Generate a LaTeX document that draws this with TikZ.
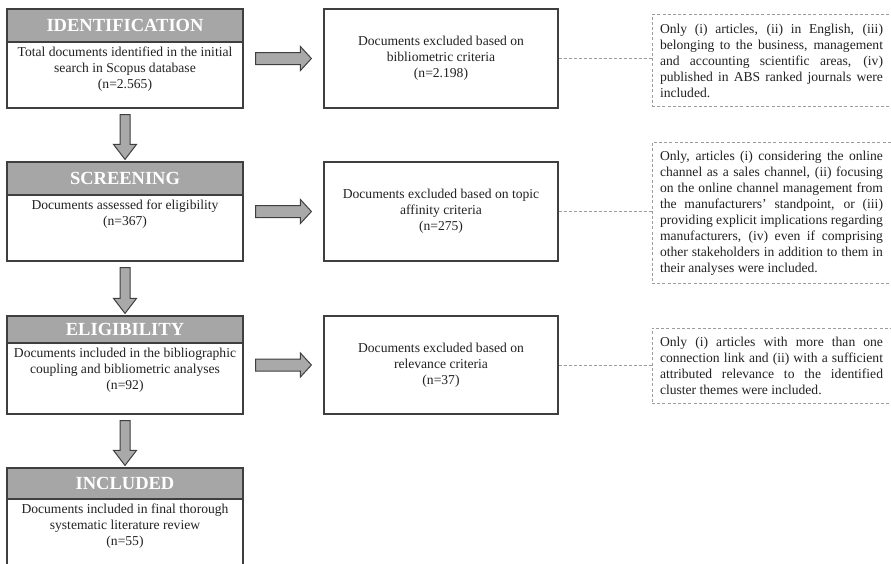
\documentclass[tikz,border=0pt]{standalone}
\usepackage{fontspec}
\setmainfont{Liberation Serif}
\usetikzlibrary{calc,positioning}
\definecolor{ink}{HTML}{222222}
\definecolor{frame}{HTML}{3F3F3F}
\definecolor{headfill}{HTML}{A6A6A6}
\definecolor{arrowfill}{HTML}{A9A9A9}
\definecolor{dashline}{HTML}{9C9C9C}
\newcommand{\bodysize}{\fontsize{13.6}{16}\selectfont}
\newcommand{\critsize}{\fontsize{13.6}{16}\selectfont}
\newcommand{\headsize}{\fontsize{18.5}{20}\selectfont\bfseries}
% block arrow from one stage down to the next
\newcommand{\flowdown}[2]{%
 \draw[flow] let \p1=($(#1.south)+(0,6)$), \p2=($(#2.north)+(0,-2)$) in
  (\x1-5pt,\y1) -- (\x1+5pt,\y1) -- (\x1+5pt,\y2+15pt) -- (\x1+11.5pt,\y2+15pt)
  -- (\x1,\y2) -- (\x1-11.5pt,\y2+15pt) -- (\x1-5pt,\y2+15pt) -- cycle;}
% block arrow from a stage to its exclusion box
\newcommand{\flowright}[2]{%
 \draw[flow] let \p1=($(#1.east |- #2.west)+(12,0)$), \p2=($(#2.west)+(-12,0)$) in
  (\x1,\y1+6pt) -- (\x2-11pt,\y1+6pt) -- (\x2-11pt,\y1+12pt) -- (\x2,\y1)
  -- (\x2-11pt,\y1-12pt) -- (\x2-11pt,\y1-6pt) -- (\x1,\y1-6pt) -- cycle;}
\tikzset{
 every node/.append style={text=ink,align=center},
 box/.style={draw=frame,fill=white,line width=1.2pt,minimum width=236pt,inner sep=0pt,font=\bodysize},
 stage/.style={box},
 head/.style={draw=frame,fill=headfill,line width=1.2pt,minimum width=236pt,inner sep=0pt,anchor=north,text=white,font=\headsize},
 body/.style={anchor=north,inner xsep=2pt,inner ysep=4.5pt,font=\bodysize},
 excl/.style={box,minimum width=234pt},
 crit/.style={draw=dashline,line width=.8pt,dash pattern=on 3pt off 2.2pt,text width=223pt,inner xsep=8pt,inner ysep=8pt,align=justify,font=\critsize},
 flow/.style={draw=frame,fill=arrowfill,line width=1pt,line join=miter},
 link/.style={draw=dashline,line width=.8pt,dash pattern=on 3pt off 2pt},
}
\begin{document}
\begin{tikzpicture}[x=1pt,y=-1pt]

\useasboundingbox (0,0) rectangle (891,563);

% stages on the left
\node[stage,minimum height=99pt] (ident) at (125,58.5) {};
\node[head,minimum height=33pt] (identHead) at (ident.north) {IDENTIFICATION};
\node[body] (identText) at (identHead.south) {Total documents identified in the initial\\search in Scopus database\\(n=2.565)};

\node[stage,minimum height=99pt] (screen) at (125,211.5) {};
\node[head,minimum height=33pt] (screenHead) at (screen.north) {SCREENING};
\node[body] (screenText) at (screenHead.south) {Documents assessed for eligibility\\(n=367)};

\node[stage,minimum height=98pt] (elig) at (125,365) {};
\node[head,minimum height=27pt] (eligHead) at (elig.north) {ELIGIBILITY};
\node[body] (eligText) at (eligHead.south) {Documents included in the bibliographic\\coupling and bibliometric analyses\\(n=92)};

\node[stage,minimum height=104pt] (incl) at (125,520) {};
\node[head,minimum height=31pt] (inclHead) at (incl.north) {INCLUDED};
\node[body] (inclText) at (inclHead.south) {Documents included in final thorough\\systematic literature review\\(n=55)};

\flowdown{ident}{screen}
\flowdown{screen}{elig}
\flowdown{elig}{incl}

% exclusions in the middle
\node[excl,minimum height=99pt] (exclA) at (441,58.5) {Documents excluded based on\\bibliometric criteria\\(n=2.198)};
\node[excl,minimum height=99pt] (exclB) at (441,211.5) {Documents excluded based on topic\\affinity criteria\\(n=275)};
\node[excl,minimum height=98pt] (exclC) at (441,365) {Documents excluded based on\\relevance criteria\\(n=37)};

\flowright{ident}{exclA}
\flowright{screen}{exclB}
\flowright{elig}{exclC}

% criteria on the right
\node[crit,anchor=west,minimum height=92pt] (critA) at ($(exclA.east)+(93,2)$) {Only (i) articles, (ii) in English, (iii)\linebreak belonging to the business, management\linebreak and accounting scientific areas, (iv)\linebreak published in ABS ranked journals were\linebreak included.};
\node[crit,anchor=west,minimum height=140pt] (critB) at ($(exclB.east)+(93,1.5)$) {Only, articles (i) considering the online\linebreak channel as a sales channel, (ii) focusing\linebreak on the online channel management from\linebreak the manufacturers' standpoint, or (iii)\linebreak providing explicit implications regarding\linebreak manufacturers, (iv) even if comprising\linebreak other stakeholders in addition to them in\linebreak their analyses were included.};
\node[crit,anchor=west,minimum height=75pt] (critC) at ($(exclC.east)+(93,0.5)$) {Only (i) articles with more than one\linebreak connection link and (ii) with a sufficient\linebreak attributed relevance to the identified\linebreak cluster themes were included.};

\draw[link] (exclA.east) -- (exclA.east -| critA.west);
\draw[link] (exclB.east) -- (exclB.east -| critB.west);
\draw[link] (exclC.east) -- (exclC.east -| critC.west);

\end{tikzpicture}
\end{document}
